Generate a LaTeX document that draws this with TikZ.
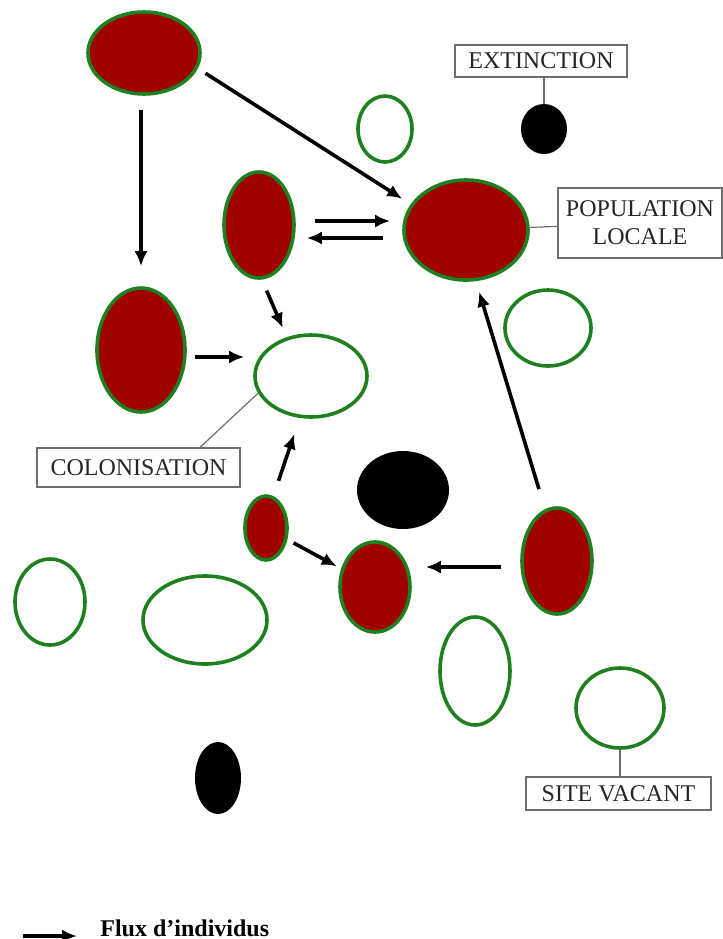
\documentclass[tikz,border=0pt]{standalone}
\usepackage{fontspec}
\setmainfont{Liberation Serif}
\usetikzlibrary{shapes.geometric,arrows.meta}
\definecolor{rougepop}{RGB}{160,0,0}
\definecolor{vertsite}{RGB}{30,128,30}
\definecolor{grisbord}{RGB}{110,110,110}

\begin{document}
\begin{tikzpicture}[x=0.5pt,y=-0.5pt,
    site/.style={ellipse,draw=vertsite,line width=1.8pt,inner sep=0pt},
    occupe/.style={site,fill=rougepop},
    eteint/.style={ellipse,fill=black,inner sep=0pt},
    etiquette/.style={draw=grisbord,line width=0.6pt,inner sep=0pt,align=center,
      font=\fontsize{12}{14}\selectfont,text=black!85},
    lien/.style={grisbord,line width=0.6pt},
    flux/.style={line width=1.8pt,-{Latex[length=7.5pt,width=6.5pt]}}]
  \useasboundingbox (0,0) rectangle (723,939);
  % sites occupes
  \node[occupe,minimum width=56pt,minimum height=41pt] (popA) at (144,53) {};
  \node[occupe,minimum width=35pt,minimum height=53pt] (popB) at (259,225) {};
  \node[occupe,minimum width=62pt,minimum height=50pt] (popLoc) at (466,230) {};
  \node[occupe,minimum width=44pt,minimum height=62pt] (popC) at (141,350) {};
  \node[occupe,minimum width=21pt,minimum height=32pt] (popD) at (266,528) {};
  \node[occupe,minimum width=35pt,minimum height=45pt] (popE) at (375,587) {};
  \node[occupe,minimum width=35pt,minimum height=53pt] (popF) at (557,561) {};
  % sites vides
  \node[site,minimum width=27pt,minimum height=33pt] (videA) at (385,129) {};
  \node[site,minimum width=56pt,minimum height=41pt] (colo) at (311,376) {};
  \node[site,minimum width=43pt,minimum height=38pt] (videB) at (548,328) {};
  \node[site,minimum width=35pt,minimum height=54pt] (videC) at (475,671) {};
  \node[site,minimum width=44pt,minimum height=40pt] (videD) at (620,708) {};
  \node[site,minimum width=35pt,minimum height=43pt] (videE) at (50,602) {};
  \node[site,minimum width=62pt,minimum height=44pt] (videF) at (205,620) {};
  % extinctions
  \node[eteint,minimum width=23pt,minimum height=25pt] (extA) at (544,129) {};
  \node[eteint,minimum width=46pt,minimum height=39pt] (extB) at (403,490) {};
  \node[eteint,minimum width=23pt,minimum height=36pt] (extC) at (218,778) {};
  % etiquettes
  \node[etiquette,minimum width=86pt,minimum height=16pt] (lblExt) at (541,61) {EXTINCTION};
  \node[etiquette,minimum width=82pt,minimum height=35pt] (lblPop) at (640,223) {POPULATION\\LOCALE};
  \node[etiquette,minimum width=101.5pt,minimum height=19.5pt] (lblColo) at (138.5,467.5) {COLONISATION};
  \node[etiquette,minimum width=92.5pt,minimum height=16.5pt] (lblSite) at (618.5,793.5) {SITE VACANT};
  \draw[lien] (lblExt.south -| extA.north) -- (extA.north);
  \draw[lien] (lblPop) -- (popLoc);
  \draw[lien] ([xshift=30.75pt]lblColo.north) -- (colo.198);
  \draw[lien] (lblSite.north -| videD.south) -- (videD.south);
  % flux
  \draw[flux,shorten <=7pt,shorten >=10pt] (popC.north |- popA.south) -- (popC.north);
  \draw[flux,shorten <=4.5pt,shorten >=5pt] (popA.-16) -- (popLoc.155);
  \coordinate (allerB) at ([yshift=2pt]popB.east);
  \coordinate (retourB) at ([yshift=-6.5pt]popB.east);
  \draw[flux,shorten <=9.5pt,shorten >=6pt] (allerB) -- (allerB -| popLoc.west);
  \draw[flux,shorten <=9.5pt,shorten >=5.5pt] (retourB -| popLoc.west) -- (retourB);
  \draw[flux,shorten <=6pt,shorten >=5pt] (popB.-87) -- (colo.122);
  \coordinate (departC) at ([yshift=-3.5pt]popC.east);
  \draw[flux,shorten <=4pt,shorten >=4.5pt] (departC) -- (departC -| colo.west);
  \draw[flux,shorten <=8pt,shorten >=8.5pt] (popD.77) -- (colo.-105);
  \draw[flux,shorten <=3.5pt,shorten >=2.5pt] (popD) -- (popE);
  \coordinate (departF) at ([yshift=-3pt]popF.west);
  \draw[flux,shorten <=9.5pt,shorten >=7pt] (departF) -- (departF -| popE.east);
  \draw[flux,shorten <=10.5pt,shorten >=5.5pt] (popF.103) -- (popLoc.-79);
  % legende
  \coordinate (legDebut) at (23,936);
  \coordinate (legFin) at (77,936);
  \draw[flux] (legDebut) -- (legFin);
  \node[anchor=base west,inner sep=0pt,font=\bfseries\fontsize{12}{14}\selectfont] (legTexte) at (100,936) {Flux d’individus};
\end{tikzpicture}
\end{document}
